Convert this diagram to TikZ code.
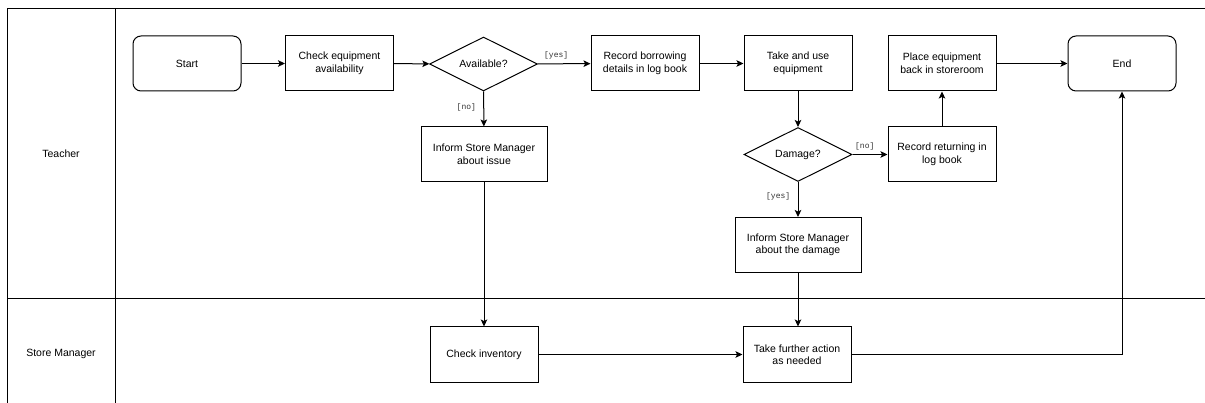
\documentclass[tikz,border=0pt]{standalone}
\usepackage{fontspec}
\setmainfont{Liberation Sans}
\newfontfamily\labelfont{Liberation Mono}
\usetikzlibrary{shapes.geometric,arrows.meta}
\begin{document}
\begin{tikzpicture}[x=1pt,y=-1pt,
  every node/.style={font=\fontsize{10.5}{12.5}\selectfont},
  lane/.style={draw=black,line width=1pt},
  proc/.style={draw=black,line width=1pt,minimum height=55pt,align=center,inner sep=0pt},
  term/.style={proc,rounded corners=8pt,minimum width=108pt},
  act/.style={proc,minimum width=108pt},
  wideact/.style={proc,minimum width=126pt},
  decision/.style={draw=black,line width=1pt,diamond,aspect=2,inner sep=0pt,
    minimum width=108pt,minimum height=54pt},
  flow/.style={draw=black,line width=1pt,-{Stealth[length=7pt,width=6.5pt,inset=1.6pt]}},
  guard/.style={font=\labelfont\fontsize{8}{9}\selectfont,text=black!80}
]
\useasboundingbox (0,0) rectangle (1205,403);
\fill[white] (0,0) rectangle (1205,403);
\begin{scope}
\clip (0,0) rectangle (1205,403);
% swimlane frame
\draw[lane] (1210,9) -- (7,9) -- (7,410);
\draw[lane] (115,9) -- (115,410);
\draw[lane] (7,299) -- (1210,299);
\end{scope}
\node (lt) at (61,154) {Teacher};
\node (lm) at (61,354) {Store Manager};

% Teacher lane
\node[term] (start) at (187,63.5) {Start};
\node[act] (check) at (339.5,63.5) {Check equipment\\availability};
\node[decision] (avail) at (483.5,64) {Available?};
\node[act] (borrow) at (645,63.5) {Record borrowing\\details in log book};
\node[act] (use) at (798,63.5) {Take and use\\equipment};
\node[act] (place) at (942,63.5) {Place equipment\\back in storeroom};
\node[term] (end) at (1122,63.5) {End};
\node[wideact] (issue) at (484,154.5) {Inform Store Manager\\about issue};
\node[decision] (damage) at (798,154.5) {Damage?};
\node[act] (ret) at (942,154.5) {Record returning in\\log book};
\node[wideact] (report) at (798,245) {Inform Store Manager\\about the damage};

% Store Manager lane
\node[act] (inv) at (484,354.5) {Check inventory};
\node[act] (further) at (797,354.5) {Take further action\\as needed};

% connectors
\draw[flow] (start) -- (check);
\draw[flow] (check) -- (avail);
\draw[flow] (avail) -- node[guard,above,pos=0.35,yshift=1pt] {[yes]} (borrow);
\draw[flow] (avail) -- node[guard,left,pos=0.45,xshift=-4pt] {[no]} (issue);
\draw[flow] (borrow) -- (use);
\draw[flow] (use) -- (damage);
\draw[flow] (damage) -- node[guard,above,pos=0.35,yshift=1pt] {[no]} (ret);
\draw[flow] (damage) -- node[guard,left,pos=0.4,xshift=-4pt] {[yes]} (report);
\draw[flow] (ret) -- (place);
\draw[flow] (place) -- (end);
\draw[flow] (issue) -- (inv);
\draw[flow] (inv) -- (further);
\draw[flow] (report.south) -- (report.south |- further.north);
\draw[flow] (further.east) -| (end.south);
\end{tikzpicture}
\end{document}
